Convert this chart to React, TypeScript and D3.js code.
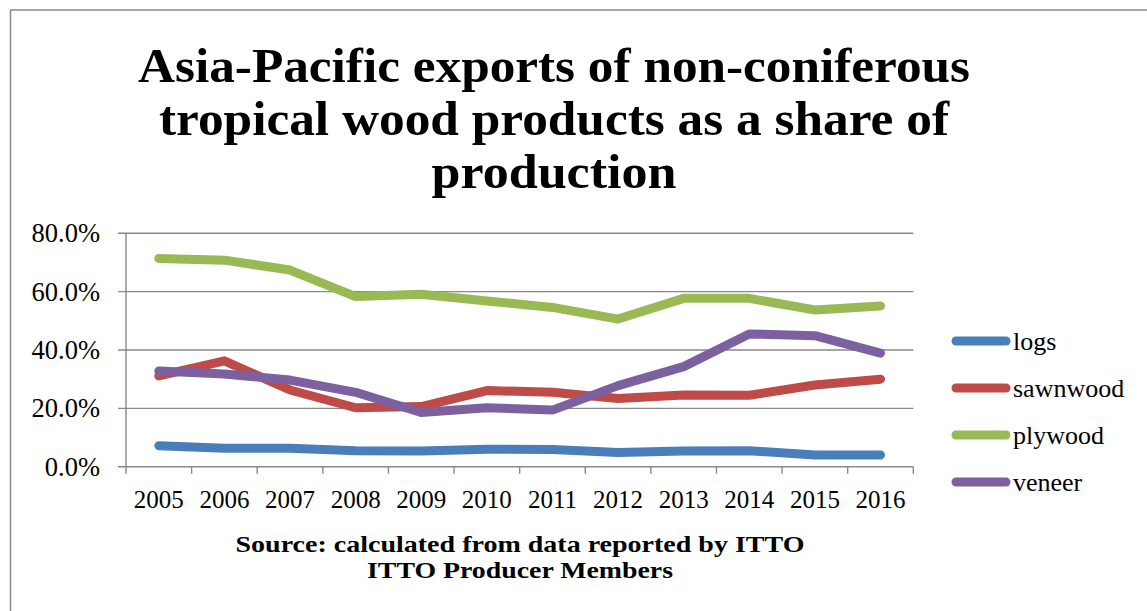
import React from "react";
import * as d3 from "d3";

const years = ["2005","2006","2007","2008","2009","2010","2011","2012","2013","2014","2015","2016"];
const logs = [7.2, 6.3, 6.3, 5.5, 5.4, 6.0, 5.9, 4.9, 5.4, 5.5, 4.0, 4.0];
const sawnwood = [31.1, 36.3, 26.3, 20.2, 20.6, 26.1, 25.5, 23.4, 24.6, 24.5, 28.0, 30.0];
const plywood = [71.4, 70.8, 67.4, 58.3, 59.1, 56.8, 54.6, 50.6, 57.7, 57.7, 53.7, 55.1];
const veneer = [32.8, 31.8, 29.7, 25.5, 18.6, 20.2, 19.4, 27.8, 34.3, 45.5, 44.9, 38.9];
const seriesNames = ["logs", "sawnwood", "plywood", "veneer"];
const seriesValues = [logs, sawnwood, plywood, veneer];
const seriesColors = ["#4a7ebb", "#be4b48", "#98b954", "#7d60a0"];
const yTicks = [0, 20, 40, 60, 80];
const titleLines = [
  "Asia-Pacific exports of non-coniferous",
  "tropical wood products as a share of",
  "production",
];
const sourceLines = [
  "Source: calculated from data reported by ITTO",
  "ITTO Producer Members",
];

export default function App() {
  const W = 1147, H = 611;
  const left = 126, right = 913.3, top = 233.3, bottom = 466.7;
  const x = d3.scaleBand<string>().domain(years).range([left, right]);
  const y = d3.scaleLinear().domain([0, 80]).range([bottom, top]);
  const line = d3
    .line<number>()
    .x((_, i) => (x(years[i]) as number) + x.bandwidth() / 2)
    .y((d) => y(d));
  const font = "'Liberation Serif', 'Times New Roman', serif";
  const gridColor = "#898989";
  const titleCx = 554;
  const titleWidths = [832, 790, 245];
  const sourceCx = 520;
  const sourceWidths = [569, 306];

  return (
    <svg
      width={W}
      height={H}
      style={{ position: "absolute", left: 0, top: 0, background: "#fff" }}
      fontFamily={font}
    >
      <rect x={0} y={0} width={W} height={H} fill="#fff" />
      {/* chart border (left and top visible) */}
      <rect x={10.5} y={10} width={W + 20} height={H + 20} fill="none" stroke="#8a8a8a" strokeWidth={1.5} />

      {/* title */}
      {titleLines.map((t, i) => (
        <text
          key={t}
          x={titleCx}
          y={82 + i * 53}
          textAnchor="middle"
          fontWeight="bold"
          fontSize={48}
          fill="#000"
          textLength={titleWidths[i]}
          lengthAdjust="spacingAndGlyphs"
        >
          {t}
        </text>
      ))}

      {/* gridlines */}
      {yTicks.map((v) => (
        <line key={v} x1={left - 8} x2={right} y1={y(v)} y2={y(v)} stroke={gridColor} strokeWidth={1.4} />
      ))}
      {/* y axis */}
      <line x1={left} x2={left} y1={top} y2={bottom} stroke={gridColor} strokeWidth={1.4} />
      {/* x ticks */}
      {years.concat(["end"]).map((yr, i) => {
        const xx = i < years.length ? (x(yr) as number) : right;
        return <line key={yr} x1={xx} x2={xx} y1={bottom} y2={bottom + 7} stroke={gridColor} strokeWidth={1.4} />;
      })}

      {/* y labels */}
      {yTicks.map((v) => (
        <text key={v} x={100} y={y(v) + 9} textAnchor="end" fontSize={26.5} fill="#000">
          {v.toFixed(1) + "%"}
        </text>
      ))}

      {/* x labels */}
      {years.map((yr) => (
        <text
          key={yr}
          x={(x(yr) as number) + x.bandwidth() / 2}
          y={508}
          textAnchor="middle"
          fontSize={25}
          fill="#000"
        >
          {yr}
        </text>
      ))}

      {/* series */}
      {seriesValues.map((vals, k) => (
        <path
          key={seriesNames[k]}
          d={line(vals) as string}
          fill="none"
          stroke={seriesColors[k]}
          strokeWidth={9}
          strokeLinecap="round"
          strokeLinejoin="round"
        />
      ))}

      {/* legend */}
      {seriesNames.map((n, k) => {
        const ly = 341 + k * 47;
        return (
          <g key={n}>
            <line x1={956} x2={1006} y1={ly} y2={ly} stroke={seriesColors[k]} strokeWidth={9} strokeLinecap="round" />
            <text x={1013} y={ly + 9} fontSize={26} fill="#000">
              {n}
            </text>
          </g>
        );
      })}

      {/* source */}
      {sourceLines.map((t, i) => (
        <text
          key={t}
          x={sourceCx}
          y={552 + i * 26}
          textAnchor="middle"
          fontWeight="bold"
          fontSize={24}
          fill="#000"
          textLength={sourceWidths[i]}
          lengthAdjust="spacingAndGlyphs"
        >
          {t}
        </text>
      ))}
    </svg>
  );
}
